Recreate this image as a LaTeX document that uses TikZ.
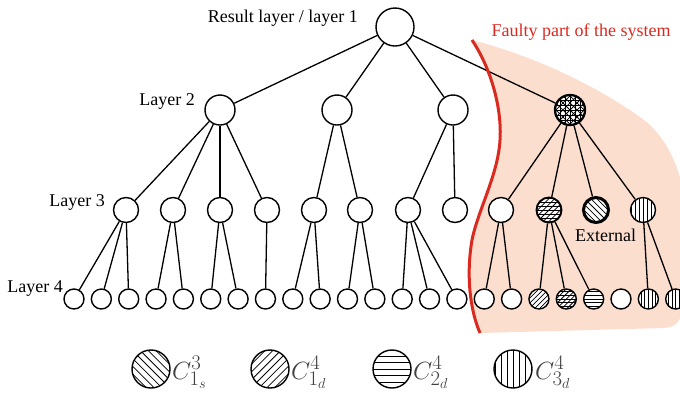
\documentclass[tikz,border=0pt]{standalone}
\usepackage{fontspec}
\setmainfont{Liberation Serif}
\usetikzlibrary{backgrounds}
\definecolor{pinkfill}{RGB}{251,222,206}
\definecolor{faultred}{RGB}{218,42,32}
\begin{document}
\begin{tikzpicture}[x=1pt,y=-1pt,
  nd/.style={circle,draw=black,line width=1.4pt,fill=white,inner sep=0pt},
  n1/.style={nd,minimum size=38pt},
  n2/.style={nd,minimum size=30pt},
  n3/.style={nd,minimum size=25pt},
  n4/.style={nd,minimum size=20pt},
  nl/.style={nd,minimum size=38pt},
  hatch/.style 2 args={path picture={
     \foreach \a in {#1}{
       \begin{scope}[shift={(path picture bounding box.center)}]
         \foreach \k in {-10,...,10}
           \draw[line width=0.75pt]
             ({-30*cos(\a)-\k*#2*sin(\a)},{-30*sin(\a)+\k*#2*cos(\a)}) --
             ({30*cos(\a)-\k*#2*sin(\a)},{30*sin(\a)+\k*#2*cos(\a)});
       \end{scope}}}},
  edge/.style={line width=1.3pt},
  lbl/.style={font=\fontsize{18}{20}\selectfont,inner sep=0pt},
  leg/.style={font=\fontsize{28}{30}\selectfont,inner sep=0pt,text=black!75},
]
\clip (0,0) rectangle (680,392);

% layer 1
\node[n1] (r) at (395,27) {};
% layer 2
\node[n2] (a) at (220,110) {};
\node[n2] (b) at (337,110) {};
\node[n2] (c) at (453,110) {};
\node[n2,line width=2.3pt,hatch={0,90,45,-45}{5}] (d) at (570,110) {};
% layer 3
\node[n3] (g0) at (126,210) {};
\node[n3] (g1) at (173,210) {};
\node[n3] (g2) at (220,210) {};
\node[n3] (g3) at (267,210) {};
\node[n3] (g4) at (314,210) {};
\node[n3] (g5) at (360,210) {};
\node[n3] (g6) at (408,210) {};
\node[n3] (g7) at (455,210) {};
\node[n3] (g8) at (501,210) {};
\node[n3,line width=1.9pt,hatch={-45,0}{4}] (g9) at (549,210) {};
\node[n3,line width=3pt,hatch={45}{4.3}] (g10) at (596,210) {};
\node[n3,hatch={90}{4}] (g11) at (643,210) {};
% layer 4
\foreach \i in {0,...,16,20}
  \node[n4] (f\i) at ({74+27.35*\i},299) {};
\node[n4,hatch={-45}{3.6}] (f17) at ({74+27.35*17},299) {};
\node[n4,hatch={-45,0}{3.6}] (f18) at ({74+27.35*18},299) {};
\node[n4,hatch={0}{3.6}] (f19) at ({74+27.35*19},299) {};
\node[n4,hatch={90}{3.6}] (f21) at ({74+27.35*21},299) {};
\node[n4,hatch={90}{3.6}] (f22) at ({74+27.35*22},299) {};

\begin{pgfonlayer}{background}
  \fill[pinkfill] (472,40) .. controls (492,70) and (502,110) .. (500,140)
     .. controls (498,175) and (478,210) .. (472,240)
     .. controls (466,275) and (470,310) .. (480,333)
     -- (664,328) .. controls (676,327) and (681,321) .. (682,310)
     -- (684,195) .. controls (678,160) and (662,132) .. (640,117)
     .. controls (590,82) and (530,55) .. (472,40) -- cycle;
  \foreach \p/\c in {r/a,r/b,r/c,r/d,
      a/g0,a/g1,a/g2,a/g3,b/g4,b/g5,c/g6,c/g7,d/g8,d/g9,d/g10,d/g11,
      g0/f0,g0/f1,g0/f2,g1/f3,g1/f4,g2/f5,g2/f6,g3/f7,g4/f8,g4/f9,
      g5/f10,g5/f11,g6/f12,g6/f13,g6/f14,g8/f15,g8/f16,
      g9/f17,g9/f18,g9/f19,g11/f21,g11/f22}
    \draw[edge] (\p) -- (\c);
  \draw[faultred,line width=3pt] (472,40) .. controls (492,70) and (502,110) .. (500,140)
     .. controls (498,175) and (478,210) .. (472,240)
     .. controls (466,275) and (470,310) .. (480,333);
\end{pgfonlayer}

% labels
\node[lbl,anchor=base east] (t1) at (358,22) {Result layer / layer 1};
\node[lbl,anchor=base east] (t2) at (195,105) {Layer 2};
\node[lbl,anchor=base east] (t3) at (105,206) {Layer 3};
\node[lbl,anchor=base east] (t4) at (63,292) {Layer 4};
\node[lbl,anchor=base] (t5) at (605.5,241) {External};
\node[lbl,anchor=base,text=faultred] (t6) at (581,36) {Faulty part of the system};

% legend
\node[nl,hatch={45}{5.5}] (l1) at (151,369) {};
\node[nl,hatch={-45}{5.5}] (l2) at (270,369) {};
\node[nl,hatch={0}{6.5}] (l3) at (392,369) {};
\node[nl,hatch={90}{6}] (l4) at (513,369) {};
\node[leg,anchor=base west] (c1) at (172,379) {$C^3_{1_s}$};
\node[leg,anchor=base west] (c2) at (291,379) {$C^4_{1_d}$};
\node[leg,anchor=base west] (c3) at (413,379) {$C^4_{2_d}$};
\node[leg,anchor=base west] (c4) at (535,379) {$C^4_{3_d}$};
\end{tikzpicture}
\end{document}
